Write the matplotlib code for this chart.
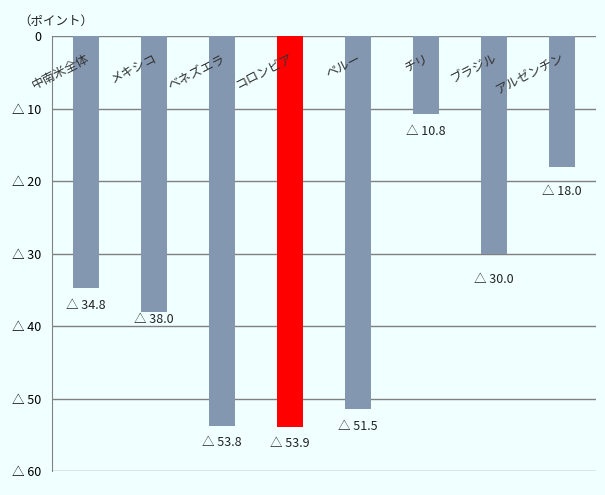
import matplotlib.pyplot as plt

plt.rcParams['font.family'] = ['Noto Sans CJK JP', 'DejaVu Sans']

# data: 下落幅（ポイント）
categories = ["中南米全体", "メキシコ", "ベネズエラ", "コロンビア", "ペルー", "チリ", "ブラジル", "アルゼンチン"]
values = [34.8, 38.0, 53.8, 53.9, 51.5, 10.8, 30.0, 18.0]
yticks = [0, 10, 20, 30, 40, 50, 60]
ytick_labels = ["0", "△ 10", "△ 20", "△ 30", "△ 40", "△ 50", "△ 60"]

# how far below the bar end each value label sits (points)
label_offsets = [12, 6, 12, 12, 12, 12, 19, 18]

bg = "#F0FFFF"
bar_color = "#8497B0"
highlight = "#FF0000"
colors = [highlight if c == "コロンビア" else bar_color for c in categories]

fig = plt.figure(figsize=(6.05, 4.95), dpi=100, facecolor=bg)
ax = fig.add_axes([0.086, 0.0485, 0.899, 0.8785])
ax.set_facecolor(bg)

x = list(range(len(categories)))
ax.bar(x, values, width=0.39, color=colors, zorder=3)

ax.set_xlim(-0.5, len(categories) - 0.5)
ax.set_ylim(60, 0)
ax.set_yticks(yticks)
ax.set_yticklabels(ytick_labels, fontsize=9)
ax.set_xticks([])
ax.tick_params(axis='y', length=0, pad=8)

ax.yaxis.grid(True, color="#808080", linewidth=1, zorder=0)
for s in ["top", "right", "bottom"]:
    ax.spines[s].set_visible(False)
ax.spines["left"].set_color("#808080")

# category labels, slanted, inside the plot near the top
for xi, c in zip(x, categories):
    ax.text(xi + 0.03, 3.0, c, rotation=27, rotation_mode='anchor',
            ha='right', va='center', fontsize=9, color="#333333", zorder=4)

# value labels under each bar
for xi, v, off in zip(x, values, label_offsets):
    ax.annotate(f"△ {v:.1f}", (xi, v), xytext=(0, -off), textcoords='offset points',
                ha='center', va='center', fontsize=9, color="#222222")

fig.text(0.03, 0.957, "（ポイント）", fontsize=9, ha='left', va='center', color="#222222")

fig.savefig("out.png", dpi=100, facecolor=bg)
